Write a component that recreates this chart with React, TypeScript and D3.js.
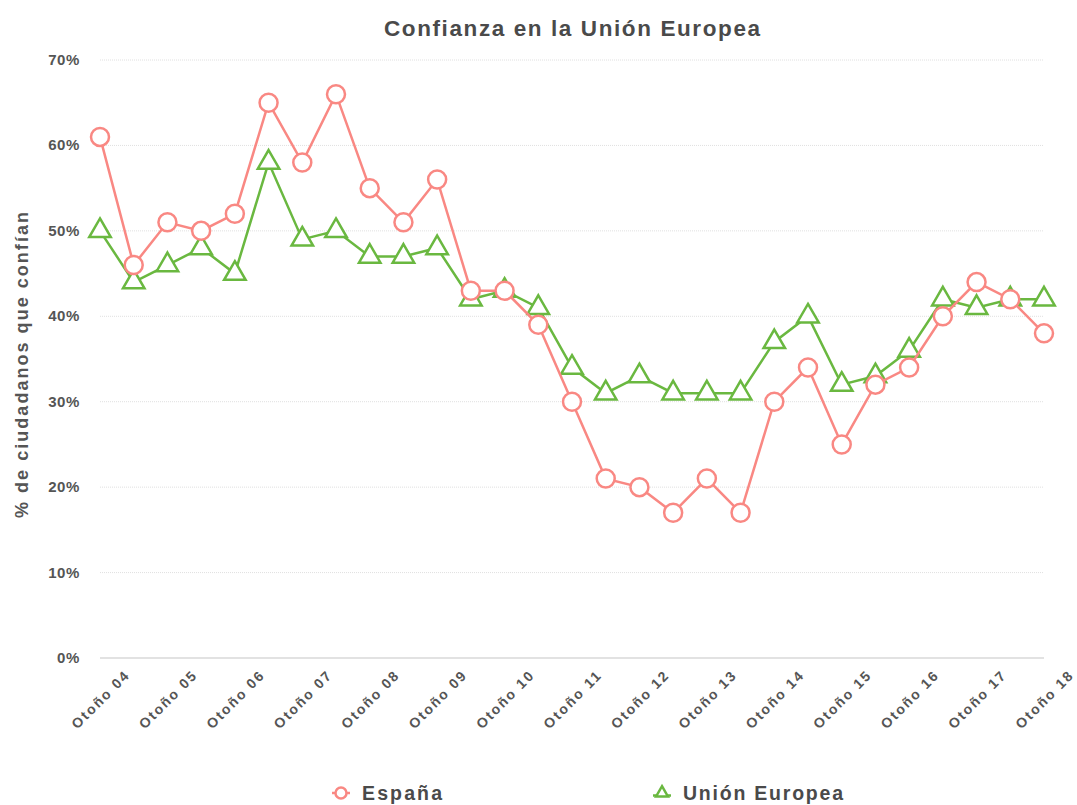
import React, { useEffect, useRef } from 'react';
import * as d3 from 'd3';

const periods = [
  'Otoño 04', 'Primavera 05', 'Otoño 05', 'Primavera 06', 'Otoño 06', 'Primavera 07',
  'Otoño 07', 'Primavera 08', 'Otoño 08', 'Primavera 09', 'Otoño 09', 'Primavera 10',
  'Otoño 10', 'Primavera 11', 'Otoño 11', 'Primavera 12', 'Otoño 12', 'Primavera 13',
  'Otoño 13', 'Primavera 14', 'Otoño 14', 'Primavera 15', 'Otoño 15', 'Primavera 16',
  'Otoño 16', 'Primavera 17', 'Otoño 17', 'Primavera 18', 'Otoño 18',
];

const espana = [61, 46, 51, 50, 52, 65, 58, 66, 55, 51, 56, 43, 43, 39, 30, 21, 20, 17, 21, 17, 30, 34, 25, 32, 34, 40, 44, 42, 38];
const unionEuropea = [50, 44, 46, 48, 45, 58, 49, 50, 47, 47, 48, 42, 43, 41, 34, 31, 33, 31, 31, 31, 37, 40, 32, 33, 36, 42, 41, 42, 42];

const yTicks = [0, 10, 20, 30, 40, 50, 60, 70];

const RED = '#f98883';
const GREEN = '#6ab840';
const TEXT = '#555';
const FONT = '"Helvetica Neue", "Liberation Sans", Arial, sans-serif';

const App: React.FC = () => {
  const ref = useRef<SVGSVGElement>(null);

  useEffect(() => {
    if (!ref.current) return;
    const svg = d3.select(ref.current);
    svg.selectAll('*').remove();

    const left = 100, right = 1044, top = 60, bottom = 658;

    const x = d3.scalePoint<string>().domain(periods).range([left, right]);
    const y = d3.scaleLinear().domain([0, 70]).range([bottom, top]);

    // Title
    svg.append('text')
      .attr('x', 572).attr('y', 36)
      .attr('text-anchor', 'middle')
      .attr('font-size', 22.5).attr('font-weight', 'bold')
      .attr('fill', '#4a4a4a')
      .attr('textLength', 376).attr('lengthAdjust', 'spacing')
      .text('Confianza en la Unión Europea');

    // Gridlines
    svg.append('g').selectAll('line')
      .data(yTicks)
      .join('line')
      .attr('x1', left).attr('x2', right)
      .attr('y1', d => y(d)).attr('y2', d => y(d))
      .attr('stroke', d => d === 0 ? '#d8d8d8' : '#e0e0e0')
      .attr('stroke-width', d => d === 0 ? 1.5 : 1)
      .attr('stroke-dasharray', d => d === 0 ? null : '1,1');

    // Y labels
    svg.append('g').selectAll('text')
      .data(yTicks)
      .join('text')
      .attr('x', 80).attr('y', d => y(d) + 5)
      .attr('text-anchor', 'end')
      .attr('font-size', 15).attr('font-weight', 'bold')
      .attr('letter-spacing', 0.6)
      .attr('fill', TEXT)
      .text(d => `${d}%`);

    // Y title
    svg.append('text')
      .attr('transform', `translate(28,365) rotate(-90)`)
      .attr('text-anchor', 'middle')
      .attr('font-size', 18).attr('font-weight', 'bold')
      .attr('fill', TEXT)
      .attr('textLength', 306).attr('lengthAdjust', 'spacing')
      .text('% de ciudadanos que confían');

    // X labels (every other period), centred on the tick and rotated
    svg.append('g').selectAll('text')
      .data(periods.filter((_, i) => i % 2 === 0))
      .join('text')
      .attr('transform', d => `translate(${x(d) as number},${bottom + 42}) rotate(-45)`)
      .attr('text-anchor', 'middle')
      .attr('dy', '0.35em')
      .attr('font-size', 14).attr('font-weight', 'bold')
      .attr('fill', TEXT)
      .attr('textLength', 74).attr('lengthAdjust', 'spacing')
      .text(d => d);

    const line = d3.line<number>()
      .x((_, i) => x(periods[i]) as number)
      .y(d => y(d));

    const tri = d3.symbol().type(d3.symbolTriangle).size(200);

    // Unión Europea
    svg.append('path')
      .datum(unionEuropea)
      .attr('d', line)
      .attr('fill', 'none').attr('stroke', GREEN).attr('stroke-width', 2.5);
    svg.append('g').selectAll('path')
      .data(unionEuropea)
      .join('path')
      .attr('d', tri)
      .attr('transform', (d, i) => `translate(${x(periods[i])},${y(d)})`)
      .attr('fill', '#fff').attr('stroke', GREEN).attr('stroke-width', 2.5);

    // España
    svg.append('path')
      .datum(espana)
      .attr('d', line)
      .attr('fill', 'none').attr('stroke', RED).attr('stroke-width', 2.5);
    svg.append('g').selectAll('circle')
      .data(espana)
      .join('circle')
      .attr('cx', (_, i) => x(periods[i]) as number)
      .attr('cy', d => y(d))
      .attr('r', 9)
      .attr('fill', '#fff').attr('stroke', RED).attr('stroke-width', 2.5);

    // Legend
    const legend = [
      { name: 'España', color: RED, kind: 'circle', x: 341, w: 80 },
      { name: 'Unión Europea', color: GREEN, kind: 'triangle', x: 662, w: 160 },
    ];
    const lg = svg.append('g').selectAll('g')
      .data(legend)
      .join('g')
      .attr('transform', d => `translate(${d.x},793)`);
    lg.filter(d => d.kind === 'circle').append('line')
      .attr('x1', -9).attr('x2', 9).attr('stroke', RED).attr('stroke-width', 2.5);
    lg.filter(d => d.kind === 'circle').append('circle')
      .attr('r', 5.5).attr('fill', '#fff').attr('stroke', RED).attr('stroke-width', 2.5);
    lg.filter(d => d.kind === 'triangle').append('line')
      .attr('x1', -9).attr('x2', 9).attr('y1', 2.5).attr('y2', 2.5)
      .attr('stroke', GREEN).attr('stroke-width', 2.5);
    lg.filter(d => d.kind === 'triangle').append('path')
      .attr('d', d3.symbol().type(d3.symbolTriangle).size(60)())
      .attr('fill', '#fff').attr('stroke', GREEN).attr('stroke-width', 2.5);
    lg.append('text')
      .attr('x', 21).attr('y', 7)
      .attr('font-size', 19.5).attr('font-weight', 'bold')
      .attr('fill', '#4a4a4a')
      .attr('textLength', d => d.w).attr('lengthAdjust', 'spacing')
      .text(d => d.name);
  }, []);

  return (
    <svg
      ref={ref}
      width={1077}
      height={805}
      style={{ position: 'absolute', left: 0, top: 0, background: '#fff', fontFamily: FONT }}
    />
  );
};

export default App;
